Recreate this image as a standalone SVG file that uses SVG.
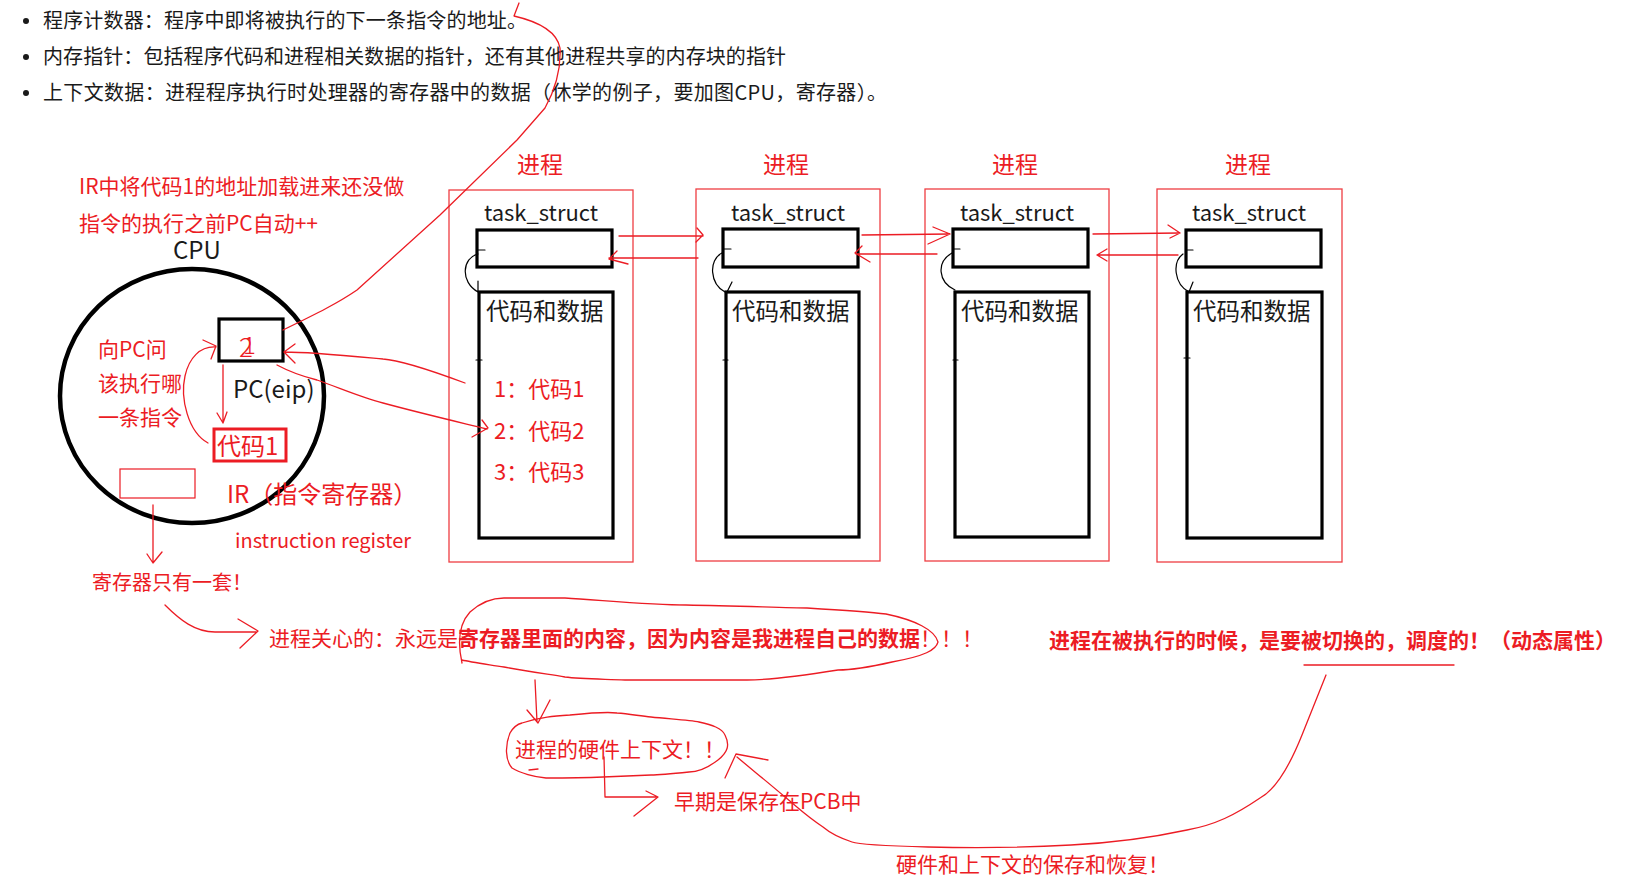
<svg xmlns="http://www.w3.org/2000/svg" width="1647" height="882" viewBox="0 0 1647 882">
<style>
text{font-family:"Noto Sans CJK SC","Noto Sans",sans-serif}
.blk{fill:#1a1a1a}
.red{fill:#ec1c24}
.rl{fill:none;stroke:#ec1c24;stroke-width:1.3;stroke-linecap:round;stroke-linejoin:round}
.bl{fill:none;stroke:#000;stroke-width:1.2;stroke-linecap:round}
.pbox{fill:none;stroke:#ef3e42;stroke-width:1.3}
.tbox{fill:none;stroke:#000;stroke-width:3.2}
.hd{font-size:23px;text-anchor:middle}
.ts{font-size:22px;text-anchor:middle}
.cd{font-size:23.5px}
.it{font-size:22px}
</style>
<rect width="1647" height="882" fill="#fff"/>

<g id="bullets">
<circle cx="26" cy="21" r="3" fill="#1a1a1a"/>
<circle cx="26" cy="57" r="3" fill="#1a1a1a"/>
<circle cx="26" cy="93" r="3" fill="#1a1a1a"/>
<text class="blk" x="43" y="28" font-size="20" textLength="484" lengthAdjust="spacing">程序计数器：程序中即将被执行的下一条指令的地址。</text>
<text class="blk" x="43" y="64" font-size="20" textLength="743" lengthAdjust="spacing">内存指针：包括程序代码和进程相关数据的指针，还有其他进程共享的内存块的指针</text>
<text class="blk" x="43" y="100" font-size="20" textLength="844" lengthAdjust="spacing">上下文数据：进程程序执行时处理器的寄存器中的数据（休学的例子，要加图CPU，寄存器）。</text>
</g>

<g id="cpu">
<text class="red" x="79" y="194" font-size="21">IR中将代码1的地址加载进来还没做</text>
<text class="red" x="79" y="231" font-size="21">指令的执行之前PC自动++</text>
<text class="blk" x="173" y="259" font-size="24">CPU</text>
<ellipse cx="192" cy="396" rx="132" ry="127" fill="none" stroke="#000" stroke-width="4.5"/>
<rect x="219" y="319" width="64" height="42" class="tbox"/>
<text class="red" x="239" y="357" font-size="26" font-weight="300">2</text>
<text class="red" x="243" y="354" font-size="24" font-weight="300">1</text>
<text class="blk" x="233" y="398" font-size="24">PC(eip)</text>
<text class="red" x="98" y="357" font-size="21">向PC问</text>
<text class="red" x="98" y="391" font-size="21">该执行哪</text>
<text class="red" x="98" y="425" font-size="21">一条指令</text>
<rect x="214" y="429" width="72" height="32" fill="none" stroke="#ec1c24" stroke-width="3"/>
<text class="red" x="217" y="455" font-size="24">代码1</text>
<rect x="120" y="469" width="75" height="29" fill="none" stroke="#ec1c24" stroke-width="1.2"/>
<text class="red" x="227" y="503" font-size="24">IR（指令寄存器）</text>
<text class="red" x="235" y="548" font-size="20">instruction register</text>
<text class="red" x="92" y="590" font-size="20">寄存器只有一套！</text>
</g>

<g id="proc1">
<text class="red hd" x="540" y="173">进程</text>
<rect x="449" y="190" width="184" height="372" class="pbox"/>
<text class="blk ts" x="541" y="221">task_struct</text>
<rect x="477" y="230" width="135" height="37" class="tbox"/>
<rect x="479" y="292" width="134" height="246" class="tbox"/>
<text class="blk cd" x="486" y="320">代码和数据</text>
<text class="red it" x="494" y="397">1：代码1</text>
<text class="red it" x="494" y="439">2：代码2</text>
<text class="red it" x="494" y="480">3：代码3</text>
<path class="bl" d="M478,250 L485,250 M478,254 C462,258 460,282 478,292 M478,281 L478,292 M476,360 L482,360"/>
</g>

<g id="proc2">
<text class="red hd" x="786" y="173">进程</text>
<rect x="696" y="189" width="184" height="372" class="pbox"/>
<text class="blk ts" x="788" y="221">task_struct</text>
<rect x="723" y="229" width="135" height="38" class="tbox"/>
<rect x="726" y="292" width="133" height="245" class="tbox"/>
<text class="blk cd" x="732" y="320">代码和数据</text>
<path class="bl" d="M723,249 L731,249 M722,253 C708,260 710,284 725,292 M732,282 L727,292 M723,360 L728,360"/>
</g>

<g id="proc3">
<text class="red hd" x="1015" y="173">进程</text>
<rect x="925" y="189" width="184" height="372" class="pbox"/>
<text class="blk ts" x="1017" y="221">task_struct</text>
<rect x="953" y="229" width="135" height="38" class="tbox"/>
<rect x="955" y="292" width="134" height="245" class="tbox"/>
<text class="blk cd" x="961" y="320">代码和数据</text>
<path class="bl" d="M953,249 L960,249 M952,253 C936,262 938,282 955,290 M953,360 L958,360"/>
</g>

<g id="proc4">
<text class="red hd" x="1248" y="173">进程</text>
<rect x="1157" y="189" width="185" height="373" class="pbox"/>
<text class="blk ts" x="1249" y="221">task_struct</text>
<rect x="1186" y="230" width="135" height="37" class="tbox"/>
<rect x="1187" y="292" width="135" height="246" class="tbox"/>
<text class="blk cd" x="1193" y="320">代码和数据</text>
<path class="bl" d="M1186,250 L1193,250 M1183,254 C1172,262 1174,284 1189,292 M1193,282 L1189,292 M1184,358 L1190,358"/>
</g>

<g id="notes">
<text class="red" x="269" y="645.5" font-size="21">进程关心的：永远是<tspan font-weight="bold">寄存器里面的内容，因为内容是我进程自己的数据</tspan>！！！</text>
<text class="red" x="1049" y="647.5" font-size="21" font-weight="bold">进程在被执行的时候，是要被切换的，调度的！（动态属性）</text>
<text class="red" x="515" y="757" font-size="21">进程的硬件上下文！！</text>
<text class="red" x="674" y="809" font-size="21">早期是保存在PCB中</text>
<text class="red" x="896" y="872" font-size="21">硬件和上下文的保存和恢复！</text>
</g>

<g id="connectors">
<path class="rl" d="M283,330 C318,313 338,303 357,290 L440,215 L517,140 L545,108 C555,90 561,68 560,48 C557,32 540,22 514,16 M514,16 L519,3"/>
<path class="rl" d="M465,383 C430,370 400,360 383,359 C340,355 310,352 284,352 M295,344 L284,352 L295,363"/>
<path class="rl" d="M277,365 C290,372 305,377 317,380 C340,388 360,397 383,403 C420,413 450,420 487,429 M482,420 L488,428 L472,437"/>
<path class="rl" d="M223,365 L223,423 M217,413 L223,423 L227,412"/>
<path class="rl" d="M208,443 C188,432 180,398 185,376 C189,358 200,346 216,347 M203,340 L216,346 L211,359"/>
<path class="rl" d="M153,505 L153,562 M147,554 L153,563 L162,552"/>
<path class="rl" d="M165,605 C180,620 195,632 215,632 L256,632 M238,619 L258,631 L240,648"/>
<path class="rl" d="M462,663 C458,645 458,625 470,612 C480,603 492,598 504,598 L565,598 C600,600 650,605 686,605 C740,606 790,608 807,608 C840,610 870,612 886,614 C915,620 935,630 938,642 C936,650 925,656 892,662 C870,667 850,670 838,670 C800,676 770,680 747,680 L625,680 C600,679 580,679 565,677 C540,673 520,670 504,667 C485,664 470,662 462,660"/>
<path class="rl" d="M535,680 L537,722 M527,710 L538,723 L550,700"/>
<path class="rl" d="M570,715 C590,713 610,712 617,713 C630,714 640,716 651,717 C670,719 690,720 699,722 C712,725 722,728 725,735 C730,745 728,752 718,760 C705,770 695,772 689,772 C670,774 660,775 651,775 L603,777 C580,778 560,778 546,778 C535,777 520,773 512,768 C505,760 505,745 510,733 C514,726 518,724 522,723 C540,717 555,716 570,715 M529,770 L538,769"/>
<path class="rl" d="M604,757 L605,797 L656,797 M646,791 L658,797 L634,816"/>
<path class="rl" d="M1326,675 C1320,690 1316,700 1302,735 C1290,765 1275,790 1260,798 C1235,815 1215,825 1187,830 C1150,838 1110,843 1071,845 C1020,848 970,848 928,847 C890,846 860,845 852,842 C840,838 830,833 823,827 C805,815 795,805 785,797 C765,780 750,768 737,757 M725,778 L736,754 L768,760"/>
<path class="rl" d="M1304,665 L1454,665"/>
<path class="rl" d="M619,236 L703,236 M697,228 L703,235 L696,242 M698,258 L609,258 M617,251 L609,259 L628,264"/>
<path class="rl" d="M862,235 L950,234 M933,227 L950,234 L928,244 M937,254 L856,254 M862,246 L855,253 L870,262"/>
<path class="rl" d="M1093,234 L1180,233 M1168,225 L1180,233 L1170,238 M1178,255 L1097,255 M1107,249 L1097,255 L1107,261"/>
</g>
</svg>
